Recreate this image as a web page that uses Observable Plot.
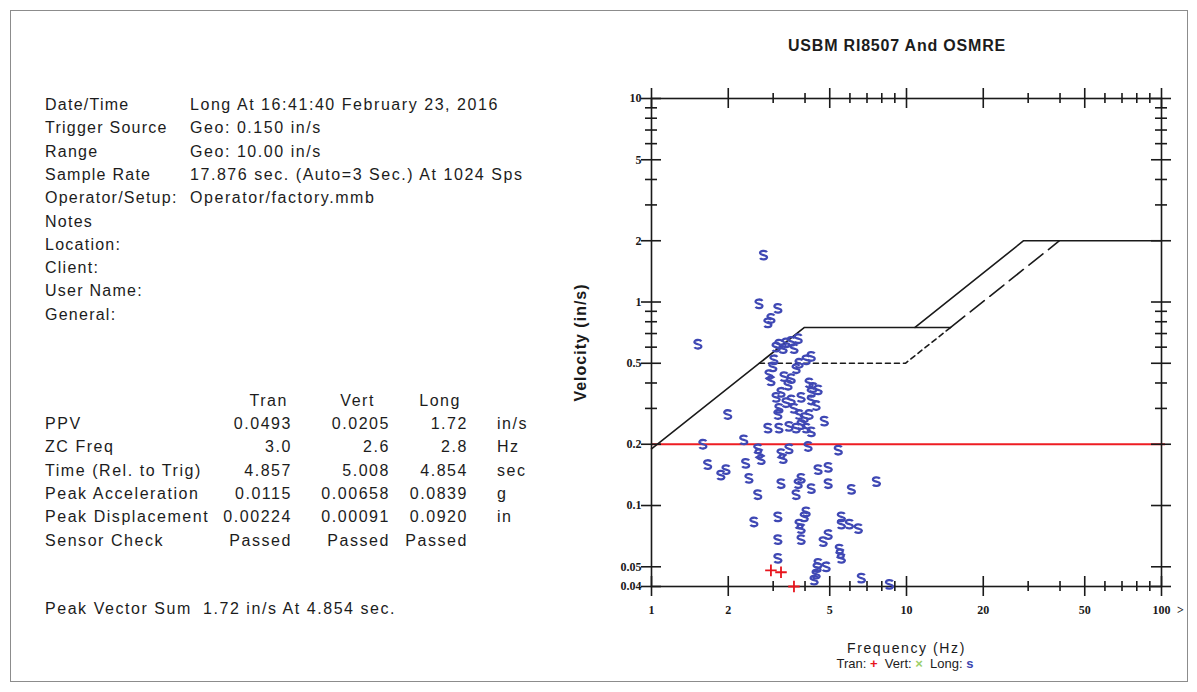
<!DOCTYPE html>
<html>
<head>
<meta charset="utf-8">
<script src="https://cdn.jsdelivr.net/npm/d3@7"></script>
<script src="https://cdn.jsdelivr.net/npm/@observablehq/plot@0.6"></script>
<style>
  body { margin: 0; background: #fff; }
  #page { position: relative; width: 1197px; height: 692px; overflow: hidden; font-family: "Liberation Sans", Arial, sans-serif; color: #1c1c1c; }
  #border { position: absolute; left: 10px; top: 10px; width: 1176px; height: 670px; border: 1px solid #8c8c8c; }
  .t { position: absolute; font-size: 16px; letter-spacing: 1.55px; white-space: nowrap; line-height: 18px; }
  .lab { letter-spacing: 1.25px; }
  .r { text-align: right; }
  #title { position: absolute; left: 740px; width: 314px; top: 37px; text-align: center; font-size: 16px; letter-spacing: 0.8px; font-weight: bold; white-space: nowrap; }
  #legend { position: absolute; left: 805px; width: 200px; top: 656px; text-align: center; font-size: 13px; white-space: nowrap; }
  #more { position: absolute; left: 1177px; top: 603px; font-family: "Liberation Serif", serif; font-weight: bold; font-size: 12px; }
  #chart { position: absolute; left: 560px; top: 60px; }
</style>
</head>
<body>
<div id="page">
  <div id="border"></div>
  <div id="title">USBM RI8507 And OSMRE</div>
  <div id="chart"></div>
  <div id="legend">Tran: <span style="color:#e8141c;font-weight:bold">+</span>&nbsp; Vert: <span style="color:#9ccf6a;font-weight:bold">×</span>&nbsp; Long: <span style="color:#3b45b0;font-weight:bold">s</span></div>
  <div id="more">&gt;</div>
</div>
<script>
// ---------- text panel data ----------
const infoLabels = ["Date/Time", "Trigger Source", "Range", "Sample Rate", "Operator/Setup:", "Notes", "Location:", "Client:", "User Name:", "General:"];
const infoValues = ["Long At 16:41:40 February 23, 2016", "Geo: 0.150 in/s", "Geo: 10.00 in/s", "17.876  sec. (Auto=3 Sec.) At 1024 Sps", "Operator/factory.mmb", "", "", "", "", ""];
const tableCols = ["Tran", "Vert", "Long"];
const tableRowLabels = ["PPV", "ZC Freq", "Time (Rel. to Trig)", "Peak Acceleration", "Peak Displacement", "Sensor Check"];
const tranVals = ["0.0493", "3.0", "4.857", "0.0115", "0.00224", "Passed"];
const vertVals = ["0.0205", "2.6", "5.008", "0.00658", "0.00091", "Passed"];
const longVals = ["1.72", "2.8", "4.854", "0.0839", "0.0920", "Passed"];
const units = ["in/s", "Hz", "sec", "g", "in", ""];
const peakVectorLabel = "Peak Vector Sum";
const peakVectorValue = "1.72 in/s At 4.854 sec.";

// ---------- chart data ----------
const xDomain = [1, 100];
const yDomain = [0.04, 10];
const xLabelTicks = [1, 2, 5, 10, 20, 50, 100];
const xMinorTicks = [3, 4, 6, 7, 8, 9, 30, 40, 60, 70, 80, 90];
const yLabelTicks = [10, 5, 2, 1, 0.5, 0.2, 0.1, 0.05, 0.04];
const yMinorTicks = [9, 8, 7, 6, 4, 3, 0.9, 0.8, 0.7, 0.6, 0.4, 0.3];

const usbmSolidFreq = [1, 3.98, 14.9];
const usbmSolidVel = [0.19, 0.75, 0.75];
const usbmDashFreq = [14.9, 39.8];
const usbmDashVel = [0.75, 2];
const osmreFreq = [10.8, 28.8, 100];
const osmreVel = [0.75, 2, 2];
const plasterFreq = [2.65, 9.9, 14.9];
const plasterVel = [0.5, 0.5, 0.75];
const redLimit = [0.2];

const longFreq = [2.75,2.64,3.13,2.94,2.86,1.52,3.16,3.37,3.53,3.76,
  3.62,3.28,3.08,3.02,2.99,2.89,2.94,3.79,4.04,4.23,
  3.69,3.31,3.53,3.08,3.22,3.43,3.53,3.37,3.16,3.13,
  4.30,4.50,4.23,4.42,4.15,3.79,3.97,3.86,4.04,4.23,
  4.76,2.86,3.16,3.46,3.69,2.30,1.99,3.86,3.62,4.15,
  4.23,1.59,2.61,2.64,3.22,3.28,3.46,4.11,5.40,2.69,
  1.66,2.34,1.96,1.87,2.41,3.22,3.76,3.86,3.69,2.61,
  4.23,4.50,4.93,4.93,6.08,7.62,2.52,3.13,3.13,3.13,
  4.04,3.97,3.79,3.86,3.86,4.71,4.93,5.55,5.55,5.97,
  6.47,5.45,5.50,5.55,4.50,4.46,4.42,4.34,4.84,6.65,8.57];
const longVel = [1.70,0.98,0.93,0.83,0.79,0.62,0.62,0.63,0.64,0.66,
  0.59,0.59,0.60,0.52,0.48,0.44,0.41,0.50,0.52,0.54,
  0.47,0.43,0.42,0.34,0.36,0.39,0.33,0.32,0.30,0.28,
  0.38,0.37,0.33,0.31,0.28,0.28,0.27,0.25,0.24,0.23,
  0.26,0.24,0.24,0.245,0.24,0.21,0.28,0.34,0.30,0.40,
  0.36,0.20,0.19,0.18,0.18,0.17,0.19,0.195,0.187,0.168,
  0.159,0.161,0.150,0.141,0.136,0.128,0.128,0.136,0.113,0.113,
  0.121,0.150,0.154,0.128,0.120,0.131,0.083,0.088,0.068,0.055,
  0.093,0.088,0.081,0.077,0.068,0.0665,0.072,0.088,0.081,0.081,
  0.077,0.061,0.058,0.055,0.052,0.0495,0.046,0.043,0.050,0.044,0.041];
const tranFreq = [2.94, 3.22, 3.62];
const tranVel = [0.048, 0.047, 0.040];

// ---------- text panel ----------
const page = document.getElementById("page");
function addText(txt, left, top, cls, width) {
  const d = document.createElement("div");
  d.className = "t" + (cls ? " " + cls : "");
  d.textContent = txt;
  d.style.top = top + "px";
  if (cls === "r") { d.style.left = (left - width) + "px"; d.style.width = width + "px"; }
  else d.style.left = left + "px";
  page.appendChild(d);
}
const rowH = 23.3;
infoLabels.forEach((l, i) => {
  addText(l, 45, 96 + i * rowH, "lab");
  if (infoValues[i]) addText(infoValues[i], 190, 96 + i * rowH);
});
const colRight = [292, 390, 468];
const headRight = [288, 375, 461];
tableCols.forEach((c, j) => addText(c, headRight[j], 392, "r", 80));
tableRowLabels.forEach((l, i) => {
  const top = 415 + i * rowH;
  addText(l, 45, top);
  [tranVals, vertVals, longVals].forEach((vals, j) => addText(vals[i], colRight[j], top, "r", 100));
  if (units[i]) addText(units[i], 497, top);
});
addText(peakVectorLabel, 45, 600);
addText(peakVectorValue, 203, 600);

// ---------- chart ----------
const pts = (fs, vs) => fs.map((f, i) => ({f, v: vs[i]}));
const ink = "#1a1a1a";
const tick = (arr, axis, pos, len) => axis === "x"
  ? Plot.ruleX(arr, {x: d => d, y1: () => pos, y2: () => pos, insetTop: -len, insetBottom: -len, stroke: ink, strokeWidth: 1.6})
  : Plot.ruleY(arr, {y: d => d, x1: () => pos, x2: () => pos, insetLeft: -len, insetRight: -len, stroke: ink, strokeWidth: 1.6});

// S-shaped glyph used by the instrument for "Long" points
const sGlyph = {
  draw(ctx, size) {
    const s = Math.sqrt(size / Math.PI);
    ctx.moveTo(0.75 * s, -0.65 * s);
    ctx.bezierCurveTo(0.5 * s, -1.05 * s, -0.8 * s, -1.05 * s, -0.75 * s, -0.45 * s);
    ctx.bezierCurveTo(-0.7 * s, 0.05 * s, 0.75 * s, -0.05 * s, 0.75 * s, 0.45 * s);
    ctx.bezierCurveTo(0.8 * s, 1.05 * s, -0.5 * s, 1.05 * s, -0.75 * s, 0.65 * s);
  }
};

const labelFont = {fontFamily: "Liberation Serif", fontWeight: "bold", fontSize: 12, fill: ink};

const chart = Plot.plot({
  width: 630,
  height: 600,
  marginLeft: 91,
  marginRight: 29,
  marginTop: 38,
  marginBottom: 74,
  style: {background: "transparent", overflow: "visible"},
  x: {type: "log", domain: xDomain, label: null, axis: null},
  y: {type: "log", domain: yDomain, label: null, axis: null},
  marks: [
    Plot.ruleY(redLimit, {y: d => d, stroke: "#ee1d23", strokeWidth: 2.2, insetRight: -4}),
    Plot.line(pts(usbmSolidFreq, usbmSolidVel), {x: "f", y: "v", stroke: ink, strokeWidth: 1.6}),
    Plot.line(pts(usbmDashFreq, usbmDashVel), {x: "f", y: "v", stroke: ink, strokeWidth: 1.6, strokeDasharray: "18,7"}),
    Plot.line(pts(osmreFreq, osmreVel), {x: "f", y: "v", stroke: ink, strokeWidth: 1.6}),
    Plot.line(pts(plasterFreq, plasterVel), {x: "f", y: "v", stroke: ink, strokeWidth: 1.6, strokeDasharray: "5,4"}),
    tick(xLabelTicks, "x", yDomain[0], 10),
    tick(xMinorTicks, "x", yDomain[0], 5),
    tick(xLabelTicks, "x", yDomain[1], 10),
    tick(xMinorTicks, "x", yDomain[1], 5),
    tick(yLabelTicks, "y", xDomain[0], 10),
    tick(yMinorTicks, "y", xDomain[0], 6),
    tick(yLabelTicks, "y", xDomain[1], 10),
    tick(yMinorTicks, "y", xDomain[1], 6),
    Plot.frame({stroke: ink, strokeWidth: 1.6}),
    Plot.text(xLabelTicks, {x: d => d, text: d => String(d), frameAnchor: "bottom", lineAnchor: "middle", dy: 24, ...labelFont}),
    Plot.text(yLabelTicks, {y: d => d, text: d => String(d), frameAnchor: "left", textAnchor: "end", dx: -10, ...labelFont}),
    Plot.dot(pts(longFreq, longVel), {x: "f", y: "v", symbol: sGlyph, r: 4.6, fill: "none", stroke: "#3f48b4", strokeWidth: 2.3}),
    Plot.dot(pts(tranFreq, tranVel), {x: "f", y: "v", symbol: "plus", r: 3.8, stroke: "#e8141c", strokeWidth: 1.8}),
    Plot.text(["Velocity (in/s)"], {text: d => d, frameAnchor: "left", textAnchor: "middle", dx: -71, rotate: -90, fontFamily: "Liberation Sans", fontWeight: "bold", fontSize: 16, fill: ink}),
    Plot.text(["Frequency (Hz)"], {text: d => d, frameAnchor: "bottom", lineAnchor: "middle", dy: 62, fontFamily: "Liberation Sans", fontSize: 14, fill: ink})
  ]
});
chart.querySelectorAll("text").forEach(t => {
  if (t.textContent === "Frequency (Hz)") t.setAttribute("letter-spacing", "1.6");
  if (t.textContent === "Velocity (in/s)") t.setAttribute("letter-spacing", "1");
});
document.getElementById("chart").appendChild(chart);
</script>
</body>
</html>
